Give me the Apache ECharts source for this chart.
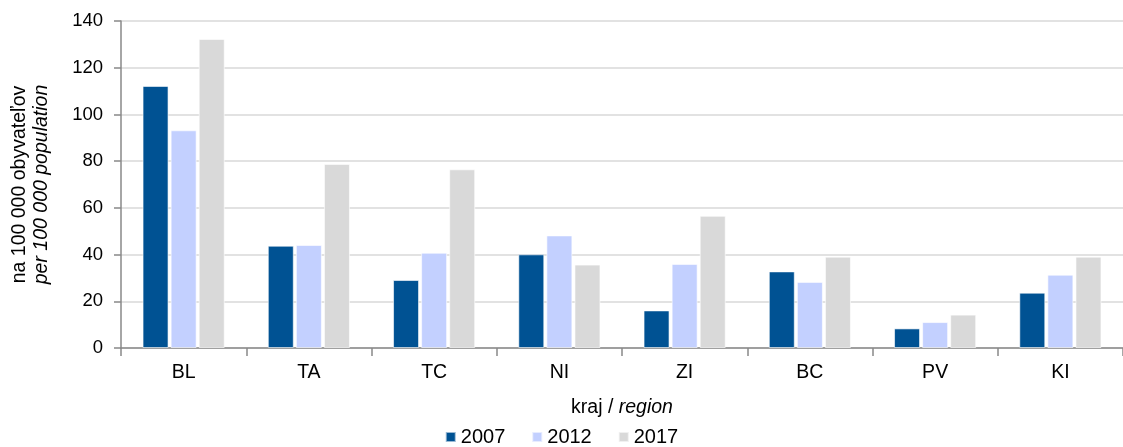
<!DOCTYPE html>
<html>
<head>
<meta charset="utf-8">
<script src="https://cdn.jsdelivr.net/npm/echarts@6/dist/echarts.min.js"></script>
<style>
  html, body { margin: 0; padding: 0; background: #fff; }
  #chart { width: 1123px; height: 447px; }
</style>
</head>
<body>
<div id="chart"></div>
<script>
// kraje
const regions = ['BL', 'TA', 'TC', 'NI', 'ZI', 'BC', 'PV', 'KI']
const years = ['2007', '2012', '2017']

// na 100 000 obyvateľov
const v2007 = [112.2, 43.8, 29.1, 40.1, 16.1, 32.8, 8.4, 23.7]
const v2012 = [93.2, 44.1, 40.8, 48.2, 36.0, 28.3, 11.1, 31.4]
const v2017 = [132.3, 78.8, 76.5, 35.7, 56.6, 39.1, 14.3, 39.1]

const colors = ['#005293', '#c3d0ff', '#d9d9d9']
const font = 'Liberation Sans, Arial, sans-serif'

const chart = echarts.init(document.getElementById('chart'))

const makeSeries = (name, data, i) => ({
  name: name,
  type: 'bar',
  data: data,
  barWidth: 26,
  barGap: '8%',
  itemStyle: { color: colors[i], borderColor: 'rgba(255,255,255,0.6)', borderWidth: 1 },
  emphasis: { disabled: true }
})

chart.setOption({
  animation: false,
  textStyle: { fontFamily: font },
  grid: { left: 121, right: 0, top: 21, bottom: 99, outerBoundsMode: 'none' },
  legend: {
    top: 422,
    left: 'center',
    icon: 'rect',
    itemWidth: 10,
    itemHeight: 10,
    itemGap: 26,
    textStyle: { fontSize: 20, color: '#000', fontFamily: font },
    data: years
  },
  xAxis: {
    type: 'category',
    data: regions,
    name: '{a|kraj / }{b|region}',
    nameLocation: 'middle',
    nameGap: 50,
    nameTextStyle: {
      rich: {
        a: { fontSize: 19.5, color: '#000', fontFamily: font },
        b: { fontSize: 19.5, color: '#000', fontStyle: 'italic', fontFamily: font }
      }
    },
    axisLine: { lineStyle: { color: '#898989', width: 1.5 } },
    axisTick: { show: true, length: 8, lineStyle: { color: '#898989', width: 1.5 } },
    axisLabel: { fontSize: 19.5, color: '#000', margin: 15 }
  },
  yAxis: {
    type: 'value',
    min: 0,
    max: 140,
    interval: 20,
    name: '{a|na 100 000 obyvateľov}\n{b|per 100 000 population}',
    nameLocation: 'middle',
    nameGap: 68,
    nameRotate: 90,
    nameTextStyle: {
      rich: {
        a: { fontSize: 19.5, color: '#000', fontFamily: font, lineHeight: 22 },
        b: { fontSize: 19.5, color: '#000', fontStyle: 'italic', fontFamily: font, lineHeight: 22 }
      }
    },
    axisLine: { show: true, lineStyle: { color: '#898989', width: 1.5 } },
    axisTick: { show: true, length: 7, lineStyle: { color: '#898989', width: 1.5 } },
    axisLabel: { fontSize: 18.5, color: '#000', margin: 18 },
    splitLine: { lineStyle: { color: '#d9d9d9', width: 1.5 } }
  },
  series: [
    makeSeries(years[0], v2007, 0),
    makeSeries(years[1], v2012, 1),
    makeSeries(years[2], v2017, 2)
  ]
})
</script>
</body>
</html>
